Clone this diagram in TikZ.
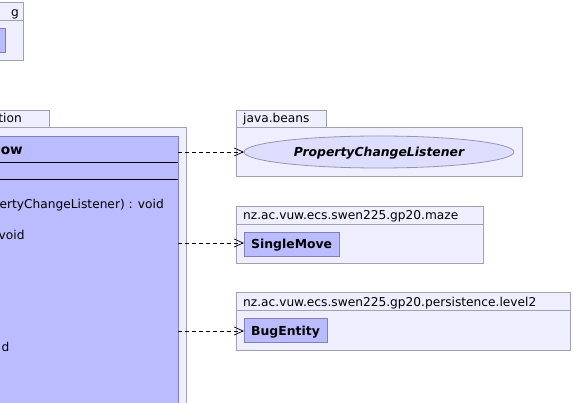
\documentclass[tikz,border=0pt]{standalone}
\usepackage{fontspec}
\setmainfont{DejaVu Sans}
\usetikzlibrary{arrows.meta}
\definecolor{pkgfill}{RGB}{238,238,255}
\definecolor{pkgline}{RGB}{160,160,176}
\definecolor{clsfill}{RGB}{187,187,255}
\definecolor{clsline}{RGB}{128,128,192}
\definecolor{ifcfill}{RGB}{221,221,255}
\definecolor{ifcline}{RGB}{150,150,170}
\tikzset{
  pkg/.style={draw=pkgline, fill=pkgfill, line width=0.8pt},
  cls/.style={draw=clsline, fill=clsfill, line width=0.8pt},
  ifc/.style={draw=ifcline, fill=ifcfill, line width=0.8pt},
  sep/.style={draw=black, line width=0.9pt},
  lbl/.style={inner sep=0pt, font=\fontsize{12.2}{14}\selectfont},
  bold/.style={inner sep=0pt, font=\fontsize{12.4}{14}\selectfont\bfseries},
  titlefont/.style={inner sep=0pt, font=\fontsize{13.6}{15}\selectfont\bfseries},
  bolditalic/.style={inner sep=0pt, font=\fontsize{12.4}{14}\selectfont\bfseries\itshape},
  dep/.style={dash pattern=on 4pt off 3pt, line width=0.7pt,
    -{Straight Barb[length=9pt,width=8pt,line width=0.7pt]}},
}
\begin{document}
\begin{tikzpicture}[x=1pt,y=-1pt]
\useasboundingbox (0,0) rectangle (573,403);
\clip (0,0) rectangle (573,403);

% package at the top left
\draw[pkg] (-40,2) rectangle (23,60);
\draw[pkgline, line width=0.8pt] (-40,20) -- (23,20);
\node[lbl, anchor=base west] (gtab) at (11,17) {g};
\draw[cls] (-40,28) rectangle (5,52);

% package holding the main class
\draw[pkg] (-40,110) rectangle (49,127);
\node[lbl, anchor=base east] (tiontab) at (22,123) {tion};
\draw[pkg] (-40,127) rectangle (186,420);
\draw[cls] (-40,136) rectangle (178,420);
\draw[sep] (-40,162) -- (178,162);
\draw[sep] (-40,179) -- (178,179);
\node[titlefont, anchor=base east] (title) at (23,155) {ow};
\node[lbl, anchor=base west] (op1) at (-0.5,209) {ertyChangeListener) : void};
\node[lbl, anchor=base west] (op2) at (-1.5,240) {void};
\node[lbl, anchor=base west] (op3) at (1.5,352) {d};
\coordinate (s1) at (178,152);
\coordinate (s2) at (178,243);
\coordinate (s3) at (178,331);

% java.beans
\draw[pkg] (236,110) rectangle (326,127);
\node[lbl, anchor=base west] (jb) at (243,123) {java.beans};
\draw[pkg] (236,127) rectangle (522,176);
\draw[ifc] (379,152) ellipse [x radius=135, y radius=16];
\coordinate (pcl) at (244,152);
\node[bolditalic, anchor=base] (pcltxt) at (379,157) {PropertyChangeListener};

% maze package
\draw[pkg] (236,206) rectangle (483,263);
\draw[pkgline, line width=0.8pt] (236,224) -- (483,224);
\node[lbl, anchor=base west] (mz) at (243,220) {nz.ac.vuw.ecs.swen225.gp20.maze};
\draw[cls] (244,232) rectangle (339,256);
\coordinate (sm) at (244,243);
\node[bold, anchor=base west] (smtxt) at (251,249) {SingleMove};

% persistence package
\draw[pkg] (236,292) rectangle (570,350);
\draw[pkgline, line width=0.8pt] (236,310) -- (570,310);
\node[lbl, anchor=base west] (ps) at (243,307) {nz.ac.vuw.ecs.swen225.gp20.persistence.level2};
\draw[cls] (244,318) rectangle (327,342);
\coordinate (be) at (244,331);
\node[bold, anchor=base west] (betxt) at (251,336) {BugEntity};

% dependencies
\draw[dep] (s1) -- (pcl);
\draw[dep] (s2) -- (sm);
\draw[dep] (s3) -- (be);
\end{tikzpicture}
\end{document}
